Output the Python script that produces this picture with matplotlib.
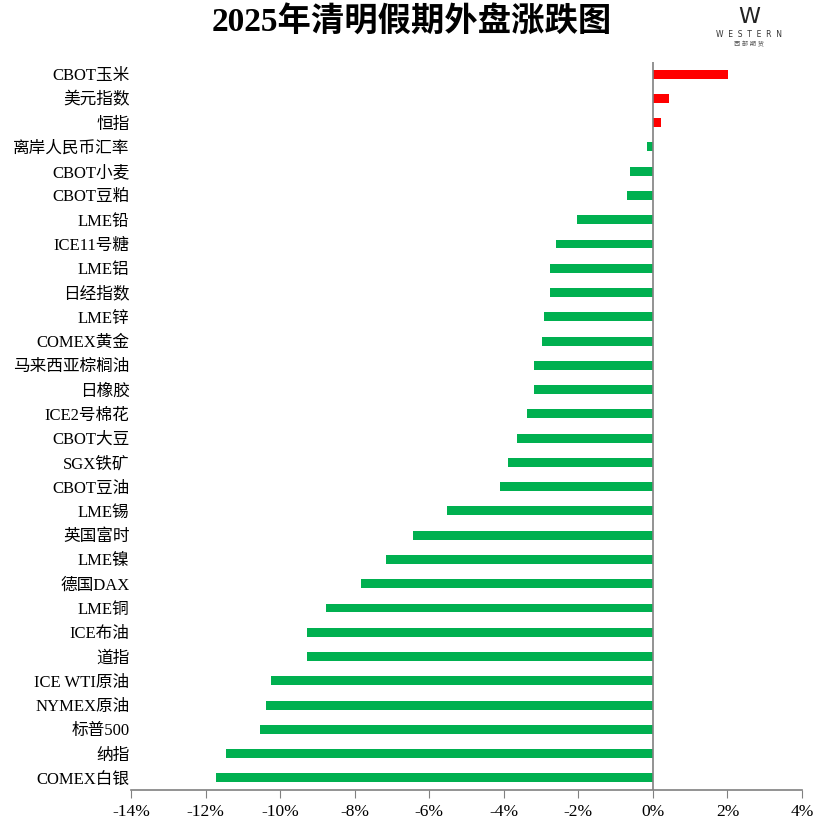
import matplotlib.pyplot as plt
import numpy as np

plt.rcParams['font.family'] = ['Liberation Serif', 'Noto Sans CJK SC']
plt.rcParams['axes.unicode_minus'] = False

# 品种和涨跌幅(%)，从上到下
names = ['CBOT玉米', '美元指数', '恒指', '离岸人民币汇率', 'CBOT小麦', 'CBOT豆粕',
         'LME铅', 'ICE11号糖', 'LME铝', '日经指数', 'LME锌', 'COMEX黄金',
         '马来西亚棕榈油', '日橡胶', 'ICE2号棉花', 'CBOT大豆', 'SGX铁矿', 'CBOT豆油',
         'LME锡', '英国富时', 'LME镍', '德国DAX', 'LME铜', 'ICE布油', '道指',
         'ICE WTI原油', 'NYMEX原油', '标普500', '纳指', 'COMEX白银']
changes = [2.01, 0.43, 0.21, -0.16, -0.62, -0.70,
           -2.04, -2.60, -2.76, -2.76, -2.92, -2.98,
           -3.19, -3.19, -3.38, -3.65, -3.89, -4.10,
           -5.52, -6.43, -7.16, -7.83, -8.77, -9.28, -9.28,
           -10.24, -10.38, -10.54, -11.45, -11.72]
xticks = [-14, -12, -10, -8, -6, -4, -2, 0, 2, 4]

vals = np.array(changes)
colors = np.where(vals > 0, '#FF0000', '#00B050')
y = np.arange(len(names))

fig = plt.figure(figsize=(8.32, 8.26), dpi=100)
ax = fig.add_axes([131/832, 1 - 790/826, (802-131)/832, (790-62)/826])

ax.barh(y, vals, height=0.37, color=colors, zorder=2)
ax.set_ylim(len(names) - 0.5, -0.5)
ax.set_xlim(-14, 4)

# 零轴
ax.axvline(0, color='#808080', lw=1.2, zorder=3)

ax.set_xticks(xticks)
ax.set_xticklabels([f'{t}%' for t in xticks], fontsize=12.5)
ax.set_yticks(y)
ax.set_yticklabels(names, fontsize=12)
ax.tick_params(axis='y', length=0, pad=1)
ax.tick_params(axis='x', direction='out', length=6, color='#808080', pad=4)

for s in ['top', 'right', 'left']:
    ax.spines[s].set_visible(False)
ax.spines['bottom'].set_color('#808080')
ax.spines['bottom'].set_linewidth(1.2)

fig.text(0.495, 0.973, '2025年清明假期外盘涨跌图', ha='center', va='center',
         fontsize=24, fontweight='bold')

# 右上角标志
fig.text(0.90, 0.980, 'W', ha='center', va='center', fontsize=16, color='#222222',
         family='DejaVu Sans')
fig.text(0.90, 0.958, 'W  E  S  T  E  R  N', ha='center', va='center', fontsize=5.5,
         color='#333333', family='DejaVu Sans')
fig.text(0.90, 0.946, '西 部 期 货', ha='center', va='center', fontsize=4.5, color='#555555')

fig.savefig('out.png', dpi=100, facecolor='white')
